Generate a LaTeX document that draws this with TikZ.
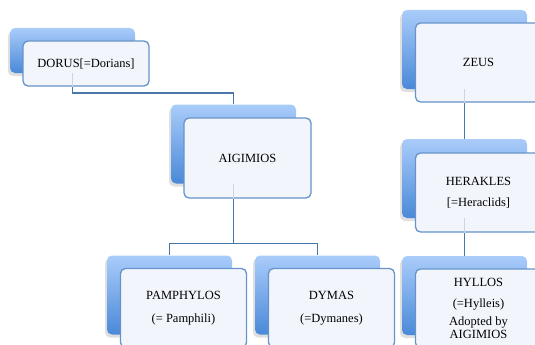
\documentclass[tikz,border=0pt]{standalone}
\usepackage{fontspec}
\setmainfont{Liberation Serif}
\usetikzlibrary{shadows}
\definecolor{linec}{HTML}{4A77AA}
\definecolor{frontedge}{HTML}{6693CA}
\definecolor{frontfill}{HTML}{F2F6FC}
\definecolor{backtop}{HTML}{A9CCFA}
\definecolor{backbot}{HTML}{4A89D8}
\tikzset{
  backbox/.style={rectangle, rounded corners=5pt, minimum width=125pt, minimum height=79pt, inner sep=0pt,
    top color=backtop, bottom color=backbot, draw=none,
    drop shadow={shadow xshift=-2pt, shadow yshift=-3pt, opacity=0.25}},
  frontbox/.style={rectangle, rounded corners=5pt, minimum width=126pt, minimum height=79pt, inner sep=2pt,
    draw=frontedge, line width=1.3pt, fill=frontfill, align=center,
    font=\fontsize{12.5}{15}\selectfont},
  conn/.style={draw=linec, line width=1.5pt},
  ghost/.style={draw=linec!30, line width=1.2pt}
}
\begin{document}
\begin{tikzpicture}[x=1pt,y=-1pt]
\useasboundingbox (0,0) rectangle (535,345);
\clip (0,0) rectangle (535,345);
% back boxes
\node[backbox, minimum height=45pt] (dorusb) at (72.5,50.5) {};
\node[backbox] (aigb) at (233.5,144) {};
\node[backbox] (zeusb) at (464.5,49.5) {};
\node[backbox] (herb) at (464.5,178.5) {};
\node[backbox] (hylb) at (464.5,295.5) {};
\node[backbox] (pamb) at (169.5,295) {};
\node[backbox] (dymb) at (317.5,295) {};
% connectors
\draw[conn] (dorusb.south) -- ++(0,20) -| (aigb.north);
\draw[conn] (aigb.south) -- ++(0,60) -| (pamb.north);
\draw[conn] (aigb.south) -- ++(0,60) -| (dymb.north);
\draw[conn] (zeusb.south) -- (herb.north);
\draw[conn] (herb.south) -- (hylb.north);
% front boxes
\node[frontbox, minimum height=45pt] (dorus) at (86,63.5) {DORUS[=Dorians]};
\node[frontbox, minimum width=127pt, minimum height=80pt] (aig) at (247.5,158) {AIGIMIOS};
\node[frontbox] (zeus) at (478.5,62.5) {ZEUS};
\node[frontbox] (her) at (478.5,192.5) {HERAKLES\\[6pt][=Heraclids]};
\node[frontbox] (hyl) at (478.5,308.5) {HYLLOS\\[6pt](=Hylleis)\\[3pt]Adopted by\\[-2pt]AIGIMIOS};
\node[frontbox] (pam) at (183.5,308) {PAMPHYLOS\\[8pt](= Pamphili)};
\node[frontbox] (dym) at (331.5,308) {DYMAS\\[8pt](=Dymanes)};
% faint connector traces seen through the front boxes
\draw[ghost] (dorusb.south) -- (dorusb.south |- dorus.south);
\draw[ghost] (aigb.south) -- (aigb.south |- aig.south);
\draw[ghost] (zeusb.south) -- (zeusb.south |- zeus.south);
\draw[ghost] (herb.south) -- (herb.south |- her.south);
\end{tikzpicture}
\end{document}
